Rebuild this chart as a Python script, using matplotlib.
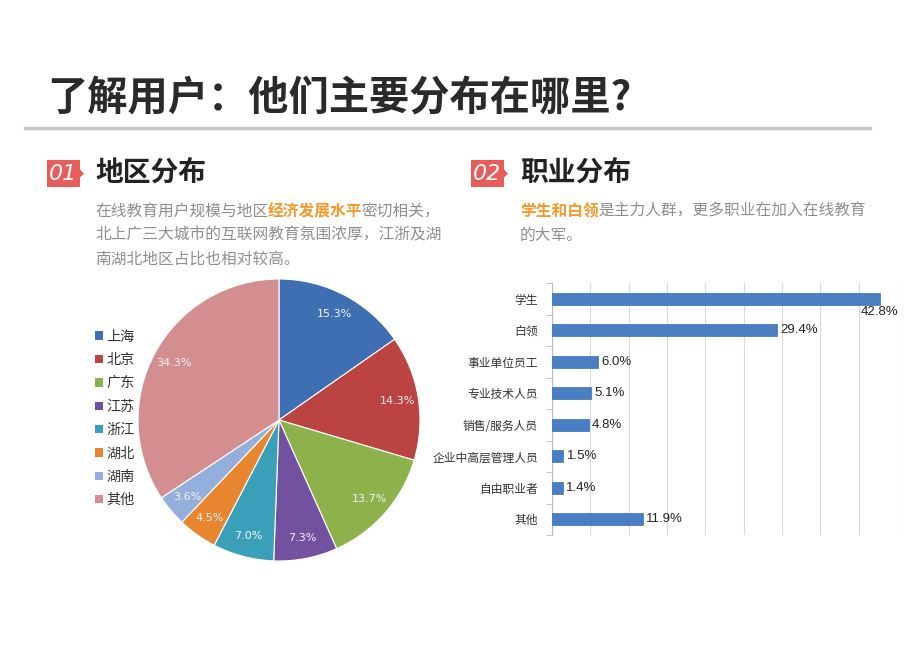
import matplotlib
matplotlib.use('Agg')
import matplotlib.pyplot as plt
from matplotlib.patches import Patch, Polygon
from matplotlib.ticker import FixedLocator, MultipleLocator

plt.rcParams['font.family'] = ['Noto Sans CJK SC', 'DejaVu Sans']

W, H = 920, 651

# 地区分布
regions = ['上海', '北京', '广东', '江苏', '浙江', '湖北', '湖南', '其他']
region_share = [15.3, 14.3, 13.7, 7.3, 7.0, 4.5, 3.6, 34.3]
region_colors = ['#3f6fb3', '#bb4342', '#8db24b', '#7251a0', '#3aa0b9',
                 '#e8862f', '#94afdc', '#d48e8f']

# 职业分布
jobs = ['学生', '白领', '事业单位员工', '专业技术人员', '销售/服务人员',
        '企业中高层管理人员', '自由职业者', '其他']
job_share = [42.8, 29.4, 6.0, 5.1, 4.8, 1.5, 1.4, 11.9]


def fx(x):
    return x / W


def fy(y):
    return 1 - y / H


fig = plt.figure(figsize=(W / 100, H / 100), dpi=100)
fig.patch.set_facecolor('white')

# 标题
fig.text(fx(47), fy(98), '了解用户：他们主要分布在哪里?', fontsize=29,
         fontweight='heavy', color='#2a2a2a', va='center', ha='left')
fig.add_artist(plt.Line2D([fx(25), fx(870)], [fy(128), fy(128)],
                          color='#c8c8c8', lw=2.5))


def badge(x, y, num):
    w, h = 33, 27
    pts = [(x, y), (x + w, y), (x + w, y + h / 2 - 4), (x + w + 4, y + h / 2),
           (x + w, y + h / 2 + 4), (x + w, y + h), (x, y + h)]
    fig.add_artist(Polygon([(fx(a), fy(b)) for a, b in pts], closed=True,
                           facecolor='#e85c5a', edgecolor='none',
                           transform=fig.transFigure))
    fig.text(fx(x + w / 2), fy(y + h / 2), num, color='white', fontsize=16,
             style='italic', family='DejaVu Sans', ha='center', va='center')


def rich_line(x, y, parts, size=11.3):
    # 逐段绘制，按全角字宽推进
    px = x
    for txt, col, bold in parts:
        fig.text(fx(px), fy(y), txt, color=col, fontsize=size,
                 fontweight='bold' if bold else 'normal', va='center', ha='left')
        px += len(txt) * size * 100 / 72


gray = '#8e8e8e'
orange = '#f39a2b'

badge(47, 160, '01')
fig.text(fx(95), fy(173), '地区分布', fontsize=20, fontweight='bold',
         color='#222222', va='center')
rich_line(95, 211, [('在线教育用户规模与地区', gray, False),
                    ('经济发展水平', orange, True),
                    ('密切相关，', gray, False)])
rich_line(95, 235, [('北上广三大城市的互联网教育氛围浓厚，江浙及湖', gray, False)])
rich_line(95, 259, [('南湖北地区占比也相对较高。', gray, False)])

badge(471, 160, '02')
fig.text(fx(520), fy(173), '职业分布', fontsize=20, fontweight='bold',
         color='#222222', va='center')
rich_line(520, 211, [('学生和白领', orange, True),
                     ('是主力人群，更多职业在加入在线教育', gray, False)])
rich_line(520, 235, [('的大军。', gray, False)])

# 饼图
cx, cy, r = 279, 420, 141
box = r * 2.5
ax1 = fig.add_axes([fx(cx - box / 2), fy(cy + box / 2), box / W, box / H])
wedges, _, autotexts = ax1.pie(region_share, colors=region_colors,
                               startangle=90, counterclock=False,
                               autopct='%.1f%%', pctdistance=0.85,
                               wedgeprops=dict(edgecolor='white', linewidth=0.8),
                               textprops=dict(color='white', fontsize=8,
                                              family='DejaVu Sans'))
for t in autotexts:
    t.set_color('#f4f4f4')

handles = [Patch(facecolor=c, edgecolor='none') for c in region_colors]
leg = fig.legend(handles, regions, loc='upper left',
                 bbox_to_anchor=(fx(82), fy(317)), frameon=False, fontsize=10.2,
                 handlelength=0.55, handleheight=0.55, handletextpad=0.25,
                 labelspacing=0.66, labelcolor='#333333')
leg.set_zorder(10)

# 条形图
left, right, top, bottom = 552, 897, 283, 535
ax2 = fig.add_axes([fx(left), fy(bottom), (right - left) / W, (bottom - top) / H])
ypos = list(range(len(jobs)))
ax2.barh(ypos, job_share, height=0.38, color='#4a7ec3', edgecolor='#3d6eb0',
         linewidth=0.5, zorder=3)
ax2.set_xlim(0, 45)
ax2.set_ylim(len(jobs) - 0.5, -0.5)
ax2.xaxis.set_major_locator(MultipleLocator(5))
ax2.grid(axis='x', color='#d9d9d9', lw=0.8, zorder=0)
ax2.tick_params(axis='x', length=0, labelbottom=False)
ax2.set_yticks(ypos)
ax2.set_yticklabels(jobs, fontsize=8.5, color='#333333')
ax2.tick_params(axis='y', which='major', length=0, pad=10)
ax2.yaxis.set_minor_locator(FixedLocator([i + 0.5 for i in range(-1, len(jobs))]))
ax2.tick_params(axis='y', which='minor', length=4, color='#bbbbbb', direction='out')
for s in ['top', 'right', 'bottom']:
    ax2.spines[s].set_visible(False)
ax2.spines['left'].set_color('#bbbbbb')
for i, v in enumerate(job_share):
    if i == 0:
        ax2.annotate(f'{v:.1f}%', (v, i), xytext=(-1, -13), textcoords='offset pixels',
                     ha='center', va='center', fontsize=9.5,
                     family='Liberation Sans', color='#222222')
    else:
        ax2.annotate(f'{v:.1f}%', (v, i), xytext=(3, 0), textcoords='offset pixels',
                     ha='left', va='center', fontsize=9.5,
                     family='Liberation Sans', color='#222222')

fig.savefig('out.png', dpi=100, facecolor='white')
